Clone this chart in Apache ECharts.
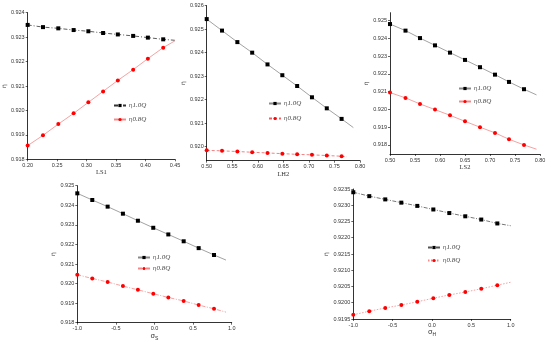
<!DOCTYPE html>
<html>
<head>
<meta charset="utf-8">
<script src="https://cdn.jsdelivr.net/npm/echarts@6/dist/echarts.min.js"></script>
<style>html,body{margin:0;padding:0;background:#fff}#c{width:550px;height:349px}</style>
</head>
<body>
<div id="c"></div>
<script>
// ---- Data ----
// Panel 1: LS1
const ls1X      = [0.200, 0.226, 0.252, 0.278, 0.303, 0.328, 0.353, 0.379, 0.404, 0.430];
const ls1Eta10  = [0.92350, 0.92341, 0.92336, 0.92329, 0.92324, 0.92317, 0.92311, 0.92305, 0.92298, 0.92291];
const ls1Eta08  = [0.91856, 0.91898, 0.91944, 0.91988, 0.92033, 0.92078, 0.92123, 0.92167, 0.92212, 0.92257];
const ls1FitEnd = [0.45, 0.92287, 0.45, 0.92285];   // [x10, y10, x08, y08]
// Panel 2: LH2
const lh2X      = [0.500, 0.530, 0.560, 0.589, 0.619, 0.648, 0.677, 0.706, 0.735, 0.764];
const lh2Eta10  = [0.92543, 0.92494, 0.92445, 0.92400, 0.92350, 0.92304, 0.92258, 0.92210, 0.92163, 0.92118];
const lh2Eta08  = [0.91984, 0.91982, 0.91979, 0.91976, 0.91973, 0.91970, 0.91967, 0.91965, 0.91962, 0.91959];
const lh2FitEnd = [0.787, 0.92081, 0.774, 0.91957];
// Panel 3: LS2
const ls2X      = [0.500, 0.531, 0.560, 0.590, 0.620, 0.650, 0.680, 0.710, 0.738, 0.768];
const ls2Eta10  = [0.92481, 0.92444, 0.92402, 0.92361, 0.92320, 0.92279, 0.92238, 0.92196, 0.92155, 0.92114];
const ls2Eta08  = [0.92095, 0.92065, 0.92031, 0.91999, 0.91967, 0.91933, 0.91900, 0.91868, 0.91832, 0.91800];
const ls2FitEnd = [0.793, 0.92082, 0.793, 0.91776];
// Panel 4: sigma_S
const sSX       = [-1.0, -0.806, -0.607, -0.409, -0.215, -0.016, 0.179, 0.378, 0.572, 0.771];
const sSEta10   = [0.92461, 0.92427, 0.92393, 0.92357, 0.92321, 0.92285, 0.92251, 0.92216, 0.92181, 0.92146];
const sSEta08   = [0.92045, 0.92026, 0.92008, 0.91987, 0.91968, 0.91948, 0.91929, 0.91911, 0.91890, 0.91871];
const sSFitEnd  = [0.926, 0.92120, 0.926, 0.91854];
// Panel 5: sigma_H
const sHX       = [-1.0, -0.797, -0.594, -0.390, -0.187, 0.017, 0.220, 0.423, 0.626, 0.830];
const sHEta10   = [0.92340, 0.92328, 0.92318, 0.92308, 0.92298, 0.92287, 0.92276, 0.92266, 0.92256, 0.92244];
const sHEta08   = [0.91963, 0.91974, 0.91984, 0.91993, 0.92003, 0.92014, 0.92024, 0.92033, 0.92043, 0.92054];
const sHFitEnd  = [1.0, 0.92237, 1.0, 0.92063];

// Tick labels
const ls1XTicks   = [0.20, 0.25, 0.30, 0.35, 0.40, 0.45];
const lXTicks     = [0.50, 0.55, 0.60, 0.65, 0.70, 0.75, 0.80];
const sigmaXTicks = [-1.0, -0.5, 0.0, 0.5, 1.0];
const eta1Ticks   = [0.918, 0.919, 0.920, 0.921, 0.922, 0.923, 0.924];
const eta2Ticks   = [0.920, 0.921, 0.922, 0.923, 0.924, 0.925, 0.926];
const eta3Ticks   = [0.918, 0.919, 0.920, 0.921, 0.922, 0.923, 0.924, 0.925];
const eta4Ticks   = [0.918, 0.919, 0.920, 0.921, 0.922, 0.923, 0.924, 0.925];
const eta5Ticks   = [0.9195, 0.9200, 0.9205, 0.9210, 0.9215, 0.9220, 0.9225, 0.9230, 0.9235];

const seriesNames = ['η1.0Q', 'η0.8Q'];

// ---- Layout / styles ----
const panels = [
  {x: ls1X, a: ls1Eta10, b: ls1Eta08, fit: ls1FitEnd, grid: {left: 26.7, top: 12.7, width: 148.3, height: 146.6},
   xr: [0.20, 0.45], yr: [0.918, 0.924], xt: ls1XTicks, yt: eta1Ticks, xd: 2, yd: 3, xname: 'LS1',
   blackLine: {color: '#333', width: 0.8, type: [4, 2, 1, 2]}, redLine: {color: '#f28a8a', width: 0.8, type: 'solid'},
   legend: {left: 113, top: 102, itemGap: 7}},
  {x: lh2X, a: lh2Eta10, b: lh2Eta08, fit: lh2FitEnd, grid: {left: 206.7, top: 5.7, width: 153.3, height: 155},
   xr: [0.50, 0.80], yr: [0.9194, 0.926], xt: lXTicks, yt: eta2Ticks, xd: 2, yd: 3, xname: 'LH2',
   blackLine: {color: '#8a8a8a', width: 0.8, type: 'solid'}, redLine: {color: '#f06060', width: 0.8, type: [3, 2]},
   legend: {left: 268, top: 100, itemGap: 8}},
  {x: ls2X, a: ls2Eta10, b: ls2Eta08, fit: ls2FitEnd, grid: {left: 390, top: 12.7, width: 150, height: 141.3},
   xr: [0.50, 0.80], yr: [0.91749, 0.92545], xt: lXTicks, yt: eta3Ticks, xd: 2, yd: 3, xname: 'LS2',
   blackLine: {color: '#8a8a8a', width: 0.8, type: 'solid'}, redLine: {color: '#f28a8a', width: 0.8, type: 'solid'},
   legend: {left: 458, top: 85, itemGap: 6}},
  {x: sSX, a: sSEta10, b: sSEta08, fit: sSFitEnd, grid: {left: 77.3, top: 185.7, width: 154.4, height: 137},
   xr: [-1.0, 1.0], yr: [0.918, 0.925], xt: sigmaXTicks, yt: eta4Ticks, xd: 1, yd: 3, xname: '{s|σ}{sub|S}',
   blackLine: {color: '#8a8a8a', width: 0.8, type: 'solid'}, redLine: {color: '#f28a8a', width: 0.8, type: [4, 1.5, 1, 1.5]},
   legend: {left: 137, top: 254, itemGap: 4}},
  {x: sHX, a: sHEta10, b: sHEta08, fit: sHFitEnd, grid: {left: 353.3, top: 189, width: 157.4, height: 130},
   xr: [-1.0, 1.0], yr: [0.9195, 0.9235], xt: sigmaXTicks, yt: eta5Ticks, xd: 1, yd: 4, xname: '{s|σ}{sub|H}',
   blackLine: {color: '#555', width: 0.8, type: [4, 1.5, 1, 1.5]}, redLine: {color: '#f28a8a', width: 0.8, type: [1.5, 1.5]},
   legend: {left: 427, top: 244, itemGap: 6}}
];

const tickLabelStyle = {fontFamily: 'Liberation Sans', fontSize: 5.5, color: '#333'};
const grids = [], xAxes = [], yAxes = [], series = [], legends = [];

panels.forEach((p, i) => {
  grids.push(Object.assign({containLabel: false}, p.grid));
  xAxes.push({
    type: 'value', gridIndex: i, min: p.xr[0], max: p.xr[1],
    name: p.xname, nameLocation: 'middle', nameGap: 9,
    nameTextStyle: {fontFamily: 'Liberation Serif', fontSize: 6.5, color: '#333',
      rich: {s: {fontFamily: 'DejaVu Sans', fontSize: 7, color: '#333'}, sub: {fontFamily: 'Liberation Sans', fontSize: 5, color: '#333', verticalAlign: 'bottom', padding: [4, 0, 0, 0]}}},
    axisLine: {show: true, onZero: false, lineStyle: {color: '#000', width: 0.8}},
    axisTick: {show: true, inside: false, length: 2, customValues: p.xt, lineStyle: {color: '#000', width: 0.6}},
    axisLabel: Object.assign({margin: 3, customValues: p.xt, formatter: v => v.toFixed(p.xd)}, tickLabelStyle),
    splitLine: {show: false}
  });
  yAxes.push({
    type: 'value', gridIndex: i, min: p.yr[0], max: p.yr[1],
    name: 'η', nameLocation: 'middle', nameGap: p.yd === 4 ? 24 : 19, nameRotate: 90,
    nameTextStyle: {fontFamily: 'DejaVu Sans', fontSize: 6, color: '#333'},
    axisLine: {show: true, onZero: false, lineStyle: {color: '#000', width: 0.8}},
    axisTick: {show: true, inside: false, length: 2, customValues: p.yt, lineStyle: {color: '#000', width: 0.6}},
    axisLabel: Object.assign({margin: 3, customValues: p.yt, formatter: v => v.toFixed(p.yd)}, tickLabelStyle),
    splitLine: {show: false}
  });
  const mk = (ys, endX, endY) => p.x.map((x, k) => [x, ys[k]]).concat([{value: [endX, endY], symbol: 'none'}]);
  const nA = seriesNames[0] + '#' + i, nB = seriesNames[1] + '#' + i;
  series.push({
    name: nA, type: 'line', xAxisIndex: i, yAxisIndex: i, data: mk(p.a, p.fit[0], p.fit[1]),
    symbol: 'rect', symbolSize: 4, showAllSymbol: true, silent: true, animation: false,
    itemStyle: {color: '#000'}, lineStyle: p.blackLine
  });
  series.push({
    name: nB, type: 'line', xAxisIndex: i, yAxisIndex: i, data: mk(p.b, p.fit[2], p.fit[3]),
    symbol: 'circle', symbolSize: 4, showAllSymbol: true, silent: true, animation: false,
    itemStyle: {color: '#ff0000'}, lineStyle: p.redLine
  });
  legends.push({
    data: [nA, nB], orient: 'vertical', left: p.legend.left, top: p.legend.top,
    itemWidth: 12, itemHeight: 4, itemGap: p.legend.itemGap, padding: 0, selectedMode: false,
    formatter: name => '{e|η}{q|' + name.split('#')[0].slice(1) + '}',
    textStyle: {color: '#333', padding: [0, 0, 0, -2], rich: {
      e: {fontFamily: 'DejaVu Sans', fontSize: 5.5, color: '#444'},
      q: {fontFamily: 'Liberation Serif', fontStyle: 'italic', fontSize: 7, color: '#444'}
    }}
  });
});

const chart = echarts.init(document.getElementById('c'), null, {renderer: 'canvas'});
chart.setOption({
  backgroundColor: '#fff', animation: false,
  grid: grids, xAxis: xAxes, yAxis: yAxes, series: series, legend: legends
});
</script>
</body>
</html>
